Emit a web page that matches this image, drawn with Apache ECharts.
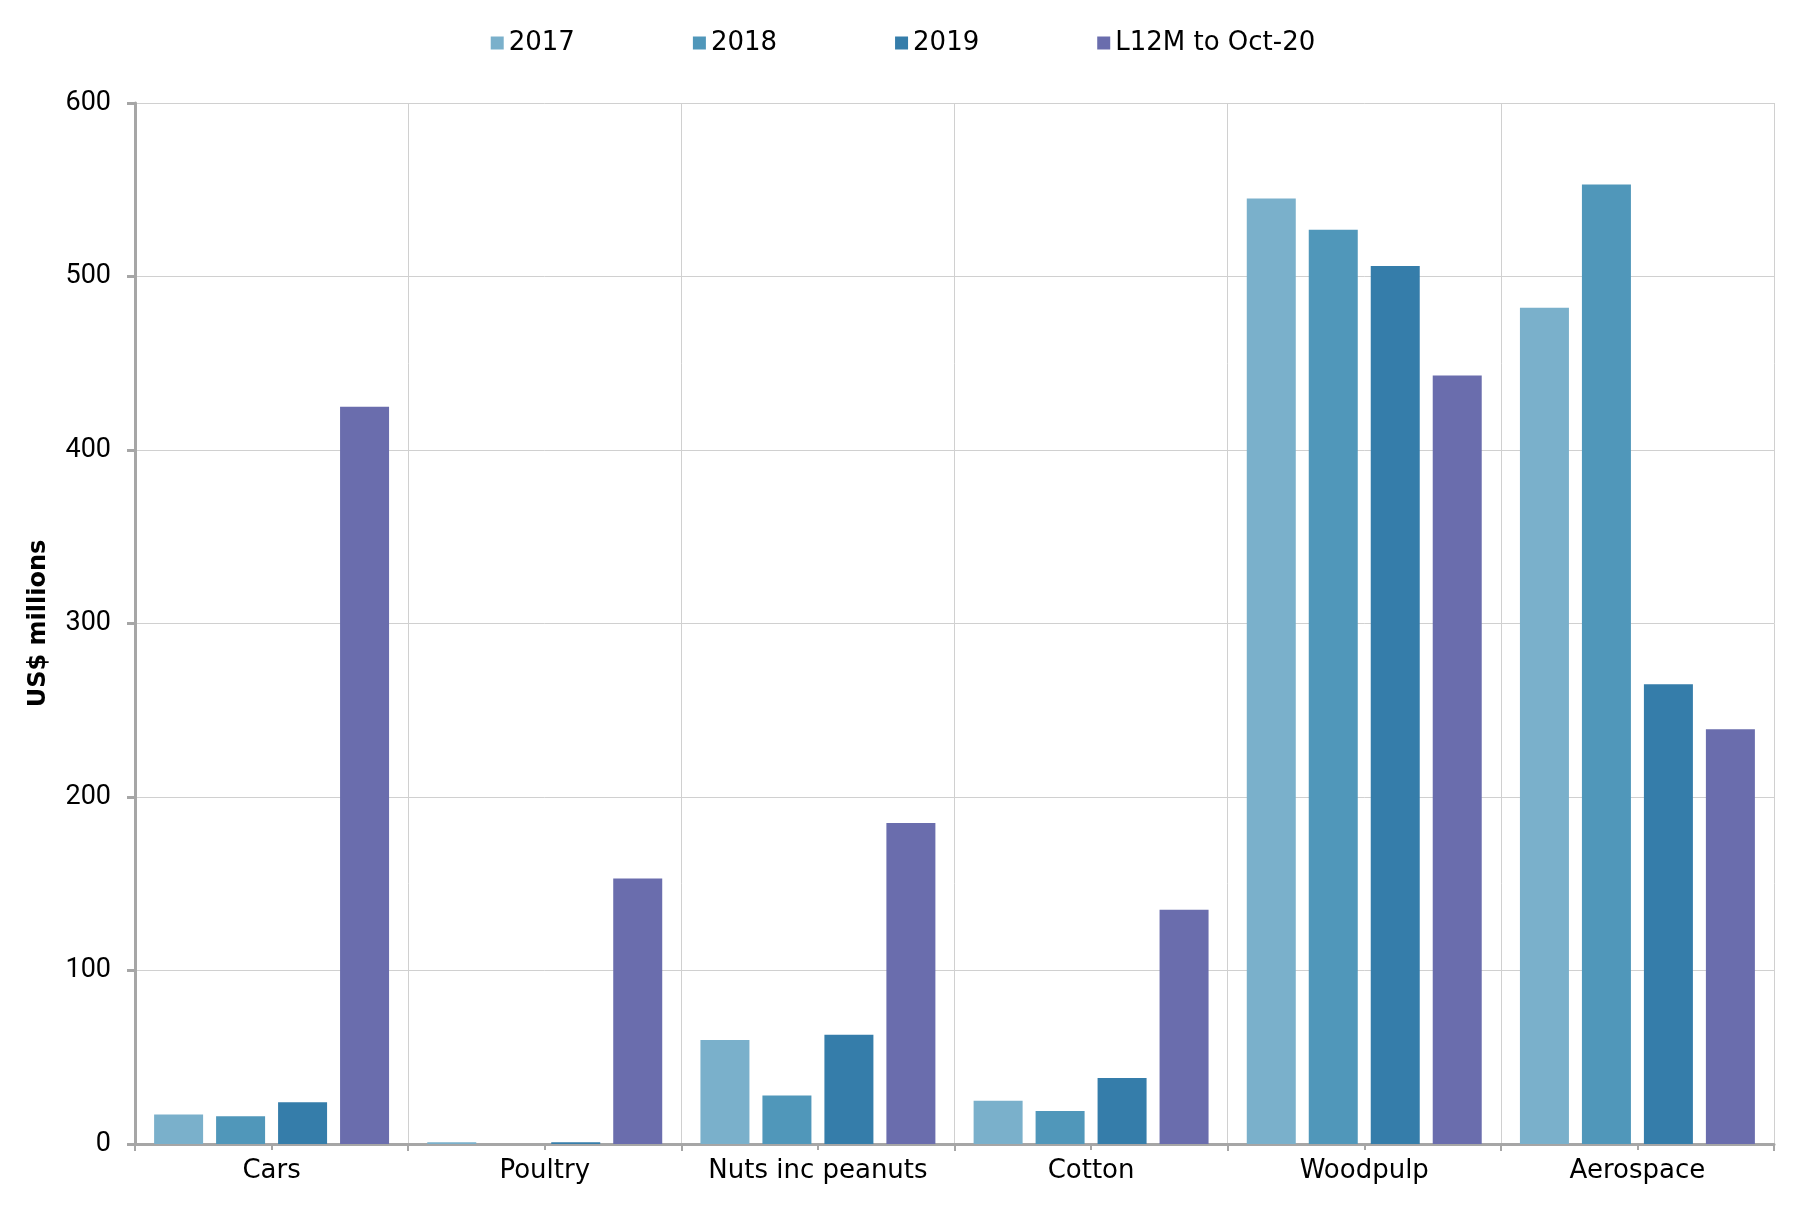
<!DOCTYPE html>
<html>
<head>
<meta charset="utf-8">
<script src="https://cdn.jsdelivr.net/npm/echarts@6/dist/echarts.min.js"></script>
<style>
html,body{margin:0;padding:0;background:#fff;}
#chart{width:1806px;height:1208px;}
</style>
</head>
<body>
<div id="chart"></div>
<script>
const categories = ['Cars', 'Poultry', 'Nuts inc peanuts', 'Cotton', 'Woodpulp', 'Aerospace'];
const seriesNames = ['2017', '2018', '2019', 'L12M to Oct-20'];
const values2017 = [17, 1, 60, 25, 545, 482];
const values2018 = [16, 0, 28, 19, 527, 553];
const values2019 = [24, 1, 63, 38, 506, 265];
const valuesL12M = [425, 153, 185, 135, 443, 239];
const yTicks = [0, 100, 200, 300, 400, 500, 600];
const colors = ['#7AB0CB', '#5097BA', '#357DAA', '#6A6DAD'];

const allValues = [values2017, values2018, values2019, valuesL12M];
const textFont = '"DejaVu Sans", sans-serif';
const numFont = 'Roboto, "Liberation Sans", sans-serif';
const gridColor = '#d0d0d0';
const axisColor = '#a6a6a6';

const chart = echarts.init(document.getElementById('chart'), null, {renderer: 'canvas'});
chart.setOption({
  animation: false,
  backgroundColor: '#ffffff',
  color: colors,
  legend: {
    top: 25,
    left: 'center',
    itemWidth: 13,
    itemHeight: 13,
    itemGap: 118,
    icon: 'rect',
    textStyle: {fontFamily: textFont, fontSize: 26, color: '#000'},
    data: seriesNames
  },
  grid: {left: 135, right: 32, top: 103, bottom: 64, containLabel: false},
  xAxis: [{
    type: 'category',
    data: categories,
    boundaryGap: true,
    axisLine: {show: true, lineStyle: {color: axisColor, width: 3}},
    axisTick: {show: true, interval: 0, length: 7, lineStyle: {color: axisColor, width: 2}},
    axisLabel: {interval: 0, fontFamily: textFont, fontSize: 26, color: '#000', margin: 14},
    splitLine: {show: true, interval: 0, lineStyle: {color: gridColor, width: 1}}
  }, {
    type: 'category',
    data: categories,
    position: 'bottom',
    boundaryGap: true,
    axisLine: {show: false},
    axisTick: {show: true, interval: 0, alignWithLabel: true, length: 6, lineStyle: {color: axisColor, width: 2}},
    axisLabel: {show: false},
    splitLine: {show: false}
  }],
  yAxis: {
    type: 'value',
    min: yTicks[0],
    max: yTicks[yTicks.length - 1],
    interval: 100,
    name: 'US$ millions',
    nameLocation: 'middle',
    nameGap: 84,
    nameTextStyle: {fontFamily: textFont, fontSize: 24, fontWeight: 'bold', color: '#000'},
    axisLine: {show: true, lineStyle: {color: axisColor, width: 3}},
    axisTick: {show: true, length: 8, lineStyle: {color: axisColor, width: 3}},
    axisLabel: {fontFamily: numFont, fontSize: 27, color: '#000', margin: 24},
    splitLine: {show: true, lineStyle: {color: gridColor, width: 1}}
  },
  series: seriesNames.map((name, i) => ({
    name: name,
    type: 'bar',
    xAxisIndex: 0,
    data: allValues[i],
    barWidth: 49,
    barGap: '26.5%',
    itemStyle: {color: colors[i]}
  }))
});
</script>
</body>
</html>
